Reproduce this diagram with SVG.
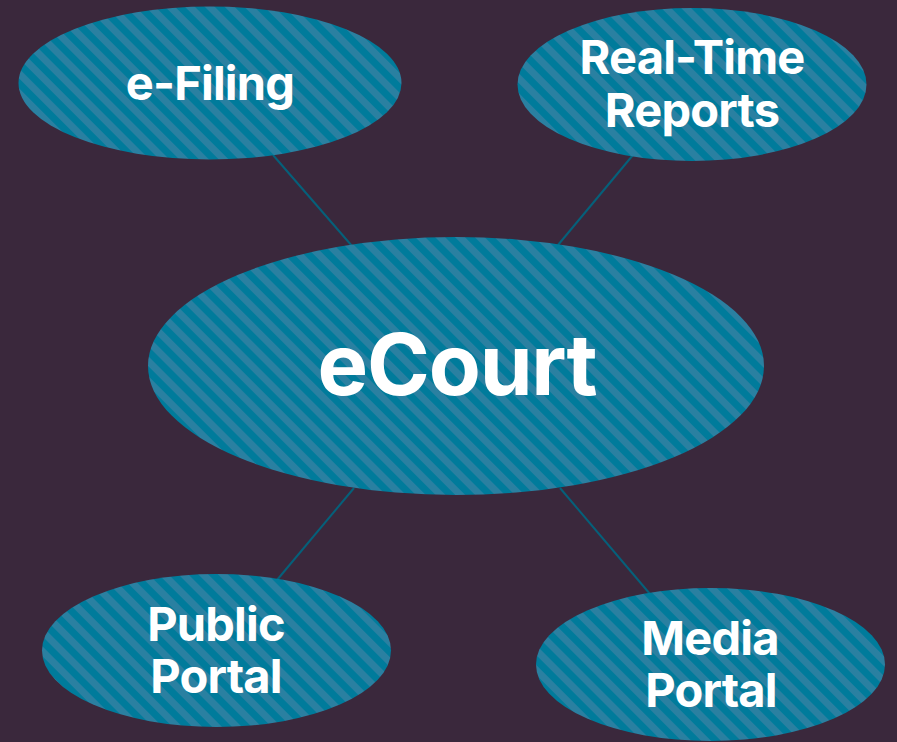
<svg xmlns="http://www.w3.org/2000/svg" width="897" height="742" viewBox="0 0 897 742">
<style>
.n{fill:url(#st)}
.c{stroke:#05607a;stroke-width:2;fill:none}
text{font-family:"Inter","Liberation Sans",sans-serif;font-weight:700;fill:#fff;text-anchor:middle}
.s{font-size:47px;letter-spacing:-.8px}
.b{font-size:85px;letter-spacing:-1.200px}
</style>
<defs>
<pattern id="st" width="14" height="14" patternUnits="userSpaceOnUse" patternTransform="rotate(-45)">
<rect width="14" height="14" fill="#007b9b"/>
<rect width="7" height="14" fill="#2a80a1"/>
</pattern>
</defs>
<rect width="897" height="742" fill="#3a283c"/>
<g id="connectors">
<line class="c" x1="273" y1="155" x2="352" y2="246"/>
<line class="c" x1="633" y1="155" x2="558" y2="245"/>
<line class="c" x1="354" y1="488" x2="277" y2="580"/>
<line class="c" x1="560" y1="488" x2="650" y2="594"/>
</g>
<g id="efiling"><ellipse class="n" cx="210" cy="83" rx="191.500" ry="76.500"/><text class="s" x="210" y="100">e-Filing</text></g>
<g id="reports"><ellipse class="n" cx="692" cy="84.500" rx="174.500" ry="76.500"/><text class="s" x="692" y="74">Real-Time</text><text class="s" x="692" y="127">Reports</text></g>
<g id="ecourt"><ellipse class="n" cx="456" cy="366" rx="308" ry="129"/><text class="b" x="457" y="395">eCourt</text></g>
<g id="public"><ellipse class="n" cx="216.500" cy="650.500" rx="174.500" ry="76.500"/><text class="s" x="216" y="641">Public</text><text class="s" x="216" y="693">Portal</text></g>
<g id="media"><ellipse class="n" cx="710.500" cy="664.500" rx="174.500" ry="76.500"/><text class="s" x="710" y="655">Media</text><text class="s" x="711" y="707">Portal</text></g>
</svg>
